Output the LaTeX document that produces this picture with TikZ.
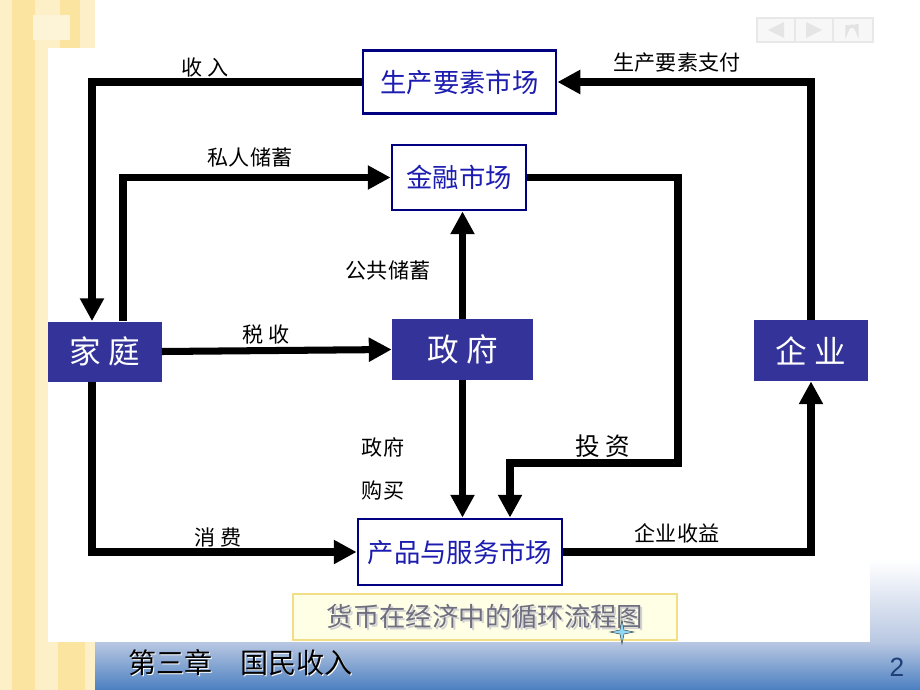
\documentclass[tikz,border=0pt]{standalone}
\usepackage{fontspec}
\setsansfont{Liberation Sans}
\newfontfamily\cjk{Noto Sans CJK SC}
\usetikzlibrary{arrows.meta}

\definecolor{agentblue}{HTML}{333399}
\definecolor{mktframe}{HTML}{000080}
\definecolor{mkttext}{HTML}{1C1CB0}
\definecolor{paleyel}{HTML}{FDEFC8}
\definecolor{deepyel}{HTML}{FBE3A0}
\definecolor{barlight}{HTML}{B9C8E2}
\definecolor{bardark}{HTML}{4B7FC1}
\definecolor{capfill}{HTML}{FFFFE6}
\definecolor{capframe}{HTML}{F2DE86}
\definecolor{captext}{HTML}{6E6E80}
\definecolor{pagenum}{HTML}{1F3F7A}

\tikzset{
  agent/.style={fill=agentblue, text=white, inner sep=0pt,
    font=\cjk\fontsize{18}{18}\selectfont},
  market/.style={draw=mktframe, line width=1.6pt, fill=white, text=mkttext,
    inner sep=0pt, font=\cjk\fontsize{15}{15}\selectfont},
  flow/.style={line width=4pt, line join=miter,
    -{Triangle[length=13pt,width=13pt]}},
  flowlbl/.style={font=\cjk\fontsize{12}{12}\selectfont},
  navbtn/.style={fill=gray!6, draw=gray!18, line width=0.6pt},
}

\begin{document}
\begin{tikzpicture}[x=0.02cm, y=-0.02cm]
      \def\px{0.02cm}
      \useasboundingbox (0,0) rectangle (920,690);
      %
      % slide background
      \fill[white] (0,0) rectangle (920,690);
      \fill[paleyel] (0,0) rectangle (48,690);          % left stripe
      \fill[deepyel] (12,0) rectangle (35,690);
      \fill[paleyel] (48,0) rectangle (95,48);          % top left
      \fill[deepyel] (60,0) rectangle (80,48);
      \fill[white!25!paleyel] (33,15) rectangle (70,40);
      \fill[paleyel] (48,642) rectangle (95,690);       % bottom left
      \fill[deepyel] (58,642) rectangle (85,690);
      \shade[top color=white, bottom color=barlight] (870,560) rectangle (920,642);
      \shade[top color=barlight, bottom color=bardark] (95,642) rectangle (920,690);
      %
      % navigation buttons
      \draw[navbtn] (757,18) rectangle (795,42);
      \draw[navbtn] (795,18) rectangle (833,42);
      \draw[navbtn] (833,18) rectangle (873,42);
      \fill[gray!20] (768,30) -- (784,22) -- (784,38) -- cycle;
      \fill[gray!20] (822,30) -- (806,22) -- (806,38) -- cycle;
      \draw[gray!22, line width=1.8pt] (847,25) -- (847,31) arc[start angle=180, end angle=360, radius=5] -- (857,24);
      %
      % agents
      \node[agent, minimum width=114*\px, minimum height=60*\px] (hh) at (104.5,351.5) {家 庭};
      \node[agent, minimum width=141*\px, minimum height=61*\px] (gov) at (462.5,349.5) {政 府};
      \node[agent, minimum width=114*\px, minimum height=61*\px] (firm) at (811,350.5) {企 业};
      %
      % markets
      \node[market, minimum width=193*\px, minimum height=63*\px] (factor) at (459.5,82) {生产要素市场};
      \node[market, minimum width=134*\px, minimum height=65*\px] (finance) at (459,177.5) {金融市场};
      \node[market, minimum width=204*\px, minimum height=66*\px] (goods) at (460,552) {产品与服务市场};
      %
      % lanes for the bent connectors
      \coordinate (laneInc) at (92,0);
      \coordinate (laneSav) at (123,0);
      \coordinate (laneInv) at (678,463);
      \coordinate (laneInvIn) at (510,0);
      %
      \draw[flow] (factor.west) -| (laneInc |- hh.north);          % income
      \draw[flow] (laneSav |- hh.north) |- (finance.west);         % private saving
      \draw[flow] (hh.east) -- (gov.west);                         % taxes
      \draw[flow] (gov.north) -- (gov.north |- finance.south);     % public saving
      \draw[flow] (gov.south) -- (gov.south |- goods.north);       % purchases
      \draw[flow] (finance.east) -| (laneInv) -| (laneInvIn |- goods.north); % investment
      \draw[flow] (laneInc |- hh.south) |- (goods.west);           % consumption
      \draw[flow] (goods.east) -| (firm.south);                    % revenue
      \draw[flow] (firm.north) |- (factor.east);                   % factor payments
      %
      % flow labels
      \node[flowlbl] (lblInc) at (205,67) {收 入};
      \node[flowlbl] (lblPay) at (677,63) {生产要素支付};
      \node[flowlbl] (lblSav) at (250,157) {私人储蓄};
      \node[flowlbl] (lblPub) at (388,270) {公共储蓄};
      \node[flowlbl] (lblTax) at (266,335) {税 收};
      \node[flowlbl] (lblGovA) at (383,447) {政府};
      \node[flowlbl] (lblGovB) at (383,491) {购买};
      \node[flowlbl, font=\cjk\fontsize{14}{14}\selectfont] (lblInv) at (603,446) {投 资};
      \node[flowlbl] (lblCon) at (218,537) {消 费};
      \node[flowlbl] (lblRev) at (677,533) {企业收益};
      %
      % caption
      \draw[fill=capfill, draw=capframe, line width=1pt] (293,594) rectangle (677,640);
      \node[gray!35, font=\cjk\fontsize{15}{15}\selectfont] (capShadow) at (487,619) {货币在经济中的循环流程图};
      \node[captext, font=\cjk\fontsize{15}{15}\selectfont] (cap) at (485,617) {货币在经济中的循环流程图};
      \fill[cyan!45, draw=black!70, line width=0.3pt] (622,620) -- (624,630) -- (634,632) -- (624,634) -- (622,644) -- (620,634) -- (610,632) -- (620,630) -- cycle;
      %
      % footer
      \node[white, anchor=west, font=\cjk\fontsize{16}{16}\selectfont] (chapShadow) at (123,664) {第三章\quad 国民收入};
      \node[black, anchor=west, font=\cjk\fontsize{16}{16}\selectfont] (chap) at (122,663) {第三章\quad 国民收入};
      \node[pagenum, font=\sffamily\fontsize{15}{15}\selectfont] (page) at (897,667) {2};
    \end{tikzpicture}
\end{document}
